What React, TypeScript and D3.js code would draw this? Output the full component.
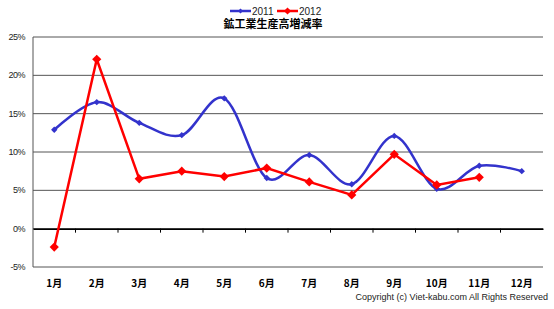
import React, { useEffect, useRef } from "react";
import * as d3 from "d3";

const months = ["1月", "2月", "3月", "4月", "5月", "6月", "7月", "8月", "9月", "10月", "11月", "12月"];
const values2011 = [12.9, 16.5, 13.8, 12.2, 17.0, 6.6, 9.6, 5.8, 12.1, 5.2, 8.2, 7.5];
const values2012 = [-2.4, 22.1, 6.5, 7.5, 6.8, 7.9, 6.1, 4.4, 9.7, 5.7, 6.7];
const yTicks = [-5, 0, 5, 10, 15, 20, 25];

// square-ish diamond marker
const diamond = (r: number) => `M0,${-r}L${r},0L0,${r}L${-r},0Z`;

const App: React.FC = () => {
  const svgRef = useRef<SVGSVGElement | null>(null);

  useEffect(() => {
    const svg = d3.select(svgRef.current);
    const width = 554;
    const height = 309;
    const margin = { top: 37, right: 11, bottom: 42, left: 33 };

    svg.selectAll("*").remove();
    svg.attr("width", width).attr("height", height);

    const x = d3
      .scaleBand()
      .domain(months)
      .range([margin.left, width - margin.right])
      .padding(0);

    const y = d3
      .scaleLinear()
      .domain([-5, 25])
      .range([height - margin.bottom, margin.top]);

    const cx = (i: number) => x(months[i])! + x.bandwidth() / 2;

    // gridlines
    svg
      .append("g")
      .selectAll("line")
      .data(yTicks)
      .join("line")
      .attr("x1", margin.left)
      .attr("x2", width - margin.right)
      .attr("y1", (d) => y(d))
      .attr("y2", (d) => y(d))
      .attr("stroke", "#555")
      .attr("stroke-width", 1);

    // left axis line
    svg
      .append("line")
      .attr("x1", margin.left)
      .attr("x2", margin.left)
      .attr("y1", y(25))
      .attr("y2", y(-5))
      .attr("stroke", "#555");

    // y labels
    svg
      .append("g")
      .selectAll("text")
      .data(yTicks)
      .join("text")
      .attr("x", margin.left - 8)
      .attr("y", (d) => y(d) + 3)
      .attr("text-anchor", "end")
      .attr("font-family", "Liberation Sans, Arial, sans-serif")
      .attr("font-size", 9)
      .attr("letter-spacing", -0.5)
      .attr("fill", "#222")
      .text((d) => `${d}%`);

    // zero axis with ticks
    const zeroAxis = svg
      .append("g")
      .attr("transform", `translate(0,${y(0)})`)
      .call(d3.axisBottom(x).tickSize(0).tickFormat(() => ""));
    zeroAxis.select(".domain").attr("stroke", "#000").attr("stroke-width", 1.5);
    zeroAxis
      .selectAll("line.cat-tick")
      .data(months.slice(1))
      .join("line")
      .attr("class", "cat-tick")
      .attr("x1", (d) => x(d)!)
      .attr("x2", (d) => x(d)!)
      .attr("y1", 0)
      .attr("y2", 4)
      .attr("stroke", "#000");

    // x labels
    svg
      .append("g")
      .selectAll("text")
      .data(months)
      .join("text")
      .attr("x", (d) => x(d)! + x.bandwidth() / 2)
      .attr("y", 287)
      .attr("text-anchor", "middle")
      .attr("font-family", "Noto Sans CJK JP, sans-serif")
      .attr("font-weight", "bold")
      .attr("font-size", 10)
      .text((d) => d);

    // 2011 smoothed
    const line2011 = d3
      .line<number>()
      .x((_, i) => cx(i))
      .y((d) => y(d))
      .curve(d3.curveCatmullRom.alpha(0));

    svg
      .append("path")
      .datum(values2011)
      .attr("d", line2011)
      .attr("fill", "none")
      .attr("stroke", "#3333cc")
      .attr("stroke-width", 2.5);

    svg
      .append("g")
      .selectAll("path")
      .data(values2011)
      .join("path")
      .attr("transform", (d, i) => `translate(${cx(i)},${y(d)})`)
      .attr("d", diamond(3.2))
      .attr("fill", "#3333cc");

    // 2012 straight
    const line2012 = d3
      .line<number>()
      .x((_, i) => cx(i))
      .y((d) => y(d));

    svg
      .append("path")
      .datum(values2012)
      .attr("d", line2012)
      .attr("fill", "none")
      .attr("stroke", "#ff0000")
      .attr("stroke-width", 2.5);

    svg
      .append("g")
      .selectAll("path")
      .data(values2012)
      .join("path")
      .attr("transform", (d, i) => `translate(${cx(i)},${y(d)})`)
      .attr("d", diamond(4.6))
      .attr("fill", "#ff0000");

    // legend
    const legend = [
      { name: "2011", color: "#3333cc", r: 2.6, x: 230 },
      { name: "2012", color: "#ff0000", r: 3.6, x: 277 },
    ];
    const lg = svg.append("g");
    legend.forEach((l) => {
      lg.append("line")
        .attr("x1", l.x)
        .attr("x2", l.x + 21)
        .attr("y1", 11)
        .attr("y2", 11)
        .attr("stroke", l.color)
        .attr("stroke-width", 2.5);
      lg.append("path")
        .attr("transform", `translate(${l.x + 10.5},11)`)
        .attr("d", diamond(l.r))
        .attr("fill", l.color);
      lg.append("text")
        .attr("x", l.x + 22)
        .attr("y", 14.5)
        .attr("font-family", "Liberation Sans, Arial, sans-serif")
        .attr("font-size", 10)
        .attr("fill", "#222")
        .text(l.name);
    });

    // title
    svg
      .append("text")
      .attr("x", 273)
      .attr("y", 28)
      .attr("text-anchor", "middle")
      .attr("font-family", "Noto Sans CJK JP, sans-serif")
      .attr("font-weight", "bold")
      .attr("font-size", 11)
      .text("鉱工業生産高増減率");

    // copyright
    svg
      .append("text")
      .attr("x", 548)
      .attr("y", 300)
      .attr("text-anchor", "end")
      .attr("font-family", "Liberation Sans, Arial, sans-serif")
      .attr("font-size", 9)
      .attr("fill", "#222")
      .text("Copyright (c) Viet-kabu.com All Rights Reserved");
  }, []);

  return (
    <div style={{ position: "absolute", left: 0, top: 0, background: "#fff" }}>
      <svg ref={svgRef} style={{ display: "block" }}></svg>
    </div>
  );
};

export default App;
